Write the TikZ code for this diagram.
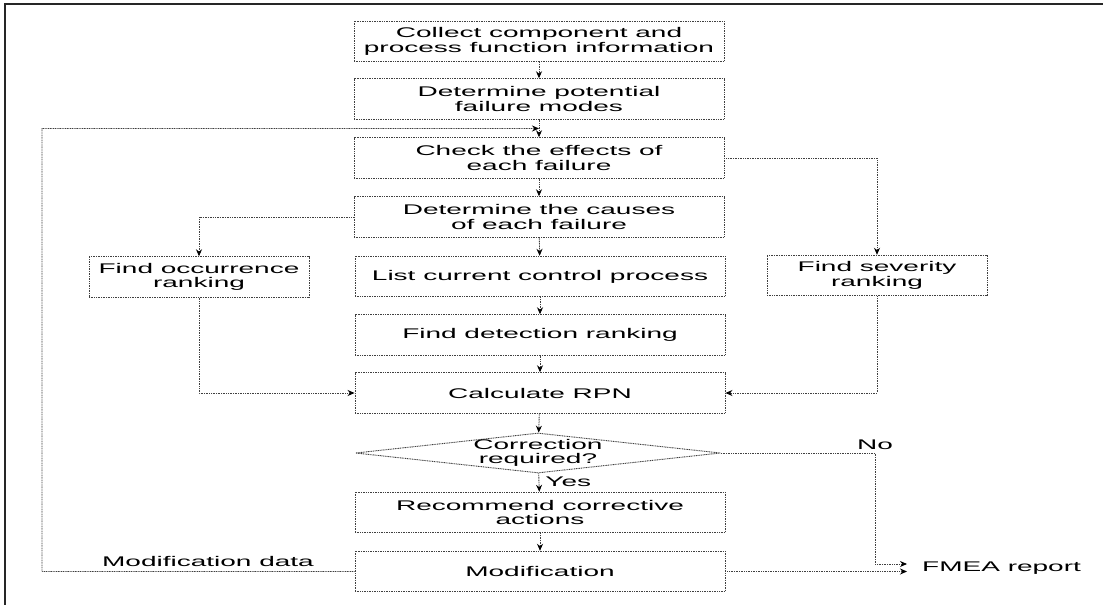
\documentclass[tikz,border=0pt]{standalone}
\usepackage{fontspec}
\setmainfont{Liberation Sans}[FakeStretch=2.0]
\usetikzlibrary{arrows.meta,calc,shapes.geometric}
\begin{document}
\begin{tikzpicture}[x=1pt,y=-1pt,
  font=\fontsize{14}{14.5}\selectfont,
  dotline/.style={draw=black!75,line width=0.9pt,dash pattern=on 1pt off 0.7pt},
  stepbox/.style={dotline,rectangle,minimum width=370pt,minimum height=40.5pt,align=center,inner sep=0pt},
  sidebox/.style={stepbox,minimum width=220pt},
  decision/.style={dotline,diamond,minimum width=365pt,minimum height=40pt,inner sep=0pt},
  flow/.style={dotline,-{Stealth[length=7pt,width=6pt,black]}},
  plain/.style={inner sep=0pt}]
\useasboundingbox (0,0) rectangle (1103,605);
% page frame (top and left rules)
\draw[black!85,line width=1.3pt] (5,605) -- (5,4) -- (1103,4);

% main column
\node[stepbox] (collect) at (539,41.5) {Collect component and\\process function information};
\node[stepbox] (modes)   at (539,99)   {Determine potential\\failure modes};
\node[stepbox] (effects) at (539,158)  {Check the effects of\\each failure};
\node[stepbox] (causes)  at (539,217)  {Determine the causes\\of each failure};
\node[stepbox] (control) at (540,276.5){List current control process};
\node[stepbox] (detect)  at (540,335)  {Find detection ranking};
\node[stepbox] (rpn)     at (540,393)  {Calculate RPN};
\node[decision] (corr)   at (538,453)  {};
\node[plain,align=center] (corrtext) at (538,453) {Correction\\required?};
\node[stepbox] (recom)   at (540,512.5){Recommend corrective\\actions};
\node[stepbox] (modif)   at (540,571.5){Modification};

% side boxes
\node[sidebox] (occ) at (199,277) {Find occurrence\\ranking};
\node[sidebox] (sev) at (877,275.5) {Find severity\\ranking};

% report
\node[plain,anchor=west,inner xsep=15pt] (fmea) at (907,568) {FMEA report};

% main flow
\draw[flow] (collect) -- (modes);
\draw[flow] (modes) -- (effects);
\draw[flow] (effects) -- (causes);
\draw[flow] (causes) -- (control);
\draw[flow] (control) -- (detect);
\draw[flow] (detect) -- (rpn);
\draw[flow] (rpn) -- (corr);
\draw[flow] (corr) -- node[plain,right=6pt,pos=0.45] {Yes} (recom);
\draw[flow] (recom) -- (modif);

% rankings
\draw[flow] (causes.west) -| (occ.north);
\draw[flow] (effects.east) -| (sev.north);
\draw[flow] (occ.south) |- (rpn.west);
\draw[flow] (sev.south) |- (rpn.east);

% no correction -> report
\coordinate (nocorner) at (875,453);
\draw[flow] (corr.east) -- (nocorner) |- ($(fmea.west)+(0,-4)$);
\node[plain,anchor=south] (nolabel) at (nocorner) [yshift=3pt] {No};
\draw[flow] (modif.east) -- ($(fmea.west)+(0,3.5)$);

% feedback loop
\coordinate (join) at ($(modes.south)!0.5!(effects.north)$);
\coordinate (fbbottom) at (42,571.5);
\coordinate (fbtop) at (42,128.5);
\draw[flow] (modif.west) -- (fbbottom) -- (fbtop) -- (join);
\node[plain] (fblabel) at (208,561) {Modification data};
\end{tikzpicture}
\end{document}
